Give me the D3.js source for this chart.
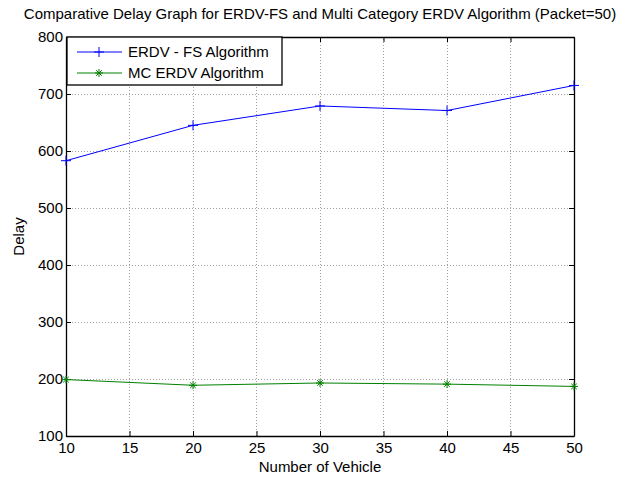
<!DOCTYPE html>
<html>
<head>
<meta charset="utf-8">
<script src="https://cdn.jsdelivr.net/npm/d3@7"></script>
<style>
  body { margin: 0; background: #fff; }
  svg { display: block; font-family: "Liberation Sans", Arial, sans-serif; }
</style>
</head>
<body>
<svg id="chart" width="629" height="478"></svg>
<script>
// data
const vehicles = [10, 20, 30, 40, 50];
const erdvFs = [583, 645, 679, 671, 715];
const mcErdv = [199, 189, 193, 191, 187];
const xTicks = [10, 15, 20, 25, 30, 35, 40, 45, 50];
const yTicks = [100, 200, 300, 400, 500, 600, 700, 800];
const seriesNames = ["ERDV - FS Algorithm", "MC ERDV Algorithm"];
const seriesColors = ["#0000ff", "#008000"];

const svg = d3.select("#chart");
const margin = { left: 66, right: 55, top: 37, bottom: 42 };
const width = 629, height = 478;
const fontSize = "15px";

const x = d3.scaleLinear().domain([10, 50]).range([margin.left, width - margin.right]);
const y = d3.scaleLinear().domain([100, 800]).range([height - margin.bottom, margin.top]);

// dotted grid
const grid = svg.append("g")
  .attr("stroke", "#a0a0a0")
  .attr("stroke-width", 1)
  .attr("stroke-dasharray", "1,2")
  .attr("shape-rendering", "crispEdges");
grid.selectAll(".gx").data(xTicks.slice(1, -1)).join("line")
  .attr("x1", d => x(d)).attr("x2", d => x(d))
  .attr("y1", y(100)).attr("y2", y(800));
grid.selectAll(".gy").data(yTicks.slice(1, -1)).join("line")
  .attr("x1", x(10)).attr("x2", x(50))
  .attr("y1", d => y(d)).attr("y2", d => y(d));

// axes with inward ticks on all sides (box on)
const tickLen = 5;
const axBottom = svg.append("g").attr("transform", `translate(0,${y(100)})`)
  .call(d3.axisBottom(x).tickValues(xTicks).tickSizeInner(-tickLen).tickSizeOuter(0).tickPadding(6));
const axTop = svg.append("g").attr("transform", `translate(0,${y(800)})`)
  .call(d3.axisTop(x).tickValues(xTicks).tickSizeInner(-tickLen).tickSizeOuter(0).tickFormat(""));
const axLeft = svg.append("g").attr("transform", `translate(${x(10)},0)`)
  .call(d3.axisLeft(y).tickValues(yTicks).tickSizeInner(-tickLen).tickSizeOuter(0).tickPadding(3));
const axRight = svg.append("g").attr("transform", `translate(${x(50)},0)`)
  .call(d3.axisRight(y).tickValues(yTicks).tickSizeInner(-tickLen).tickSizeOuter(0).tickFormat(""));

[axBottom, axTop, axLeft, axRight].forEach(g => {
  g.select(".domain").attr("stroke", "#000").attr("stroke-width", 1.3);
  g.selectAll(".tick line").attr("stroke", "#000");
  g.selectAll("text").attr("fill", "#000").style("font-size", fontSize)
    .style("font-family", "'Liberation Sans', Arial, sans-serif");
});

// series lines
const line = d3.line().x((d, i) => x(vehicles[i])).y(d => y(d));
[erdvFs, mcErdv].forEach((vals, k) => {
  svg.append("path").datum(vals)
    .attr("fill", "none")
    .attr("stroke", seriesColors[k])
    .attr("stroke-width", 1)
    .attr("d", line);
});

// markers
function plusPath(cx, cy, r) {
  return `M${cx - r},${cy}H${cx + r}M${cx},${cy - r}V${cy + r}`;
}
function starPath(cx, cy, r) {
  const a = r * 0.7;
  return plusPath(cx, cy, r) + `M${cx - a},${cy - a}L${cx + a},${cy + a}M${cx - a},${cy + a}L${cx + a},${cy - a}`;
}
svg.append("g").selectAll("path").data(erdvFs).join("path")
  .attr("d", (d, i) => plusPath(x(vehicles[i]), y(d), 5))
  .attr("stroke", seriesColors[0]).attr("fill", "none");
svg.append("g").selectAll("path").data(mcErdv).join("path")
  .attr("d", (d, i) => starPath(x(vehicles[i]), y(d), 4))
  .attr("stroke", seriesColors[1]).attr("fill", "none");

// legend
const lg = svg.append("g").attr("transform", `translate(${x(10) + 1},${y(800)})`);
lg.append("rect").attr("x", 0).attr("y", 0).attr("width", 215).attr("height", 48)
  .attr("fill", "#fff").attr("stroke", "#000").attr("stroke-width", 1.3);
seriesNames.forEach((name, k) => {
  const ry = 15 + k * 21;
  lg.append("line").attr("x1", 10).attr("x2", 55).attr("y1", ry).attr("y2", ry)
    .attr("stroke", seriesColors[k]);
  lg.append("path")
    .attr("d", k === 0 ? plusPath(32, ry, 5) : starPath(32, ry, 4))
    .attr("stroke", seriesColors[k]).attr("fill", "none");
  lg.append("text").attr("x", 61).attr("y", ry).attr("dy", "0.35em")
    .style("font-size", fontSize).text(name);
});

// title and axis labels
svg.append("text").attr("x", (x(10) + x(50)) / 2).attr("y", 19).attr("text-anchor", "middle")
  .style("font-size", fontSize).text("Comparative Delay Graph for ERDV-FS and Multi Category ERDV Algorithm (Packet=50)");
svg.append("text").attr("x", (x(10) + x(50)) / 2).attr("y", 472).attr("text-anchor", "middle")
  .style("font-size", fontSize).text("Number of Vehicle");
svg.append("text").attr("transform", `translate(24,${(y(100) + y(800)) / 2}) rotate(-90)`)
  .attr("text-anchor", "middle").style("font-size", fontSize).text("Delay");
</script>
</body>
</html>
